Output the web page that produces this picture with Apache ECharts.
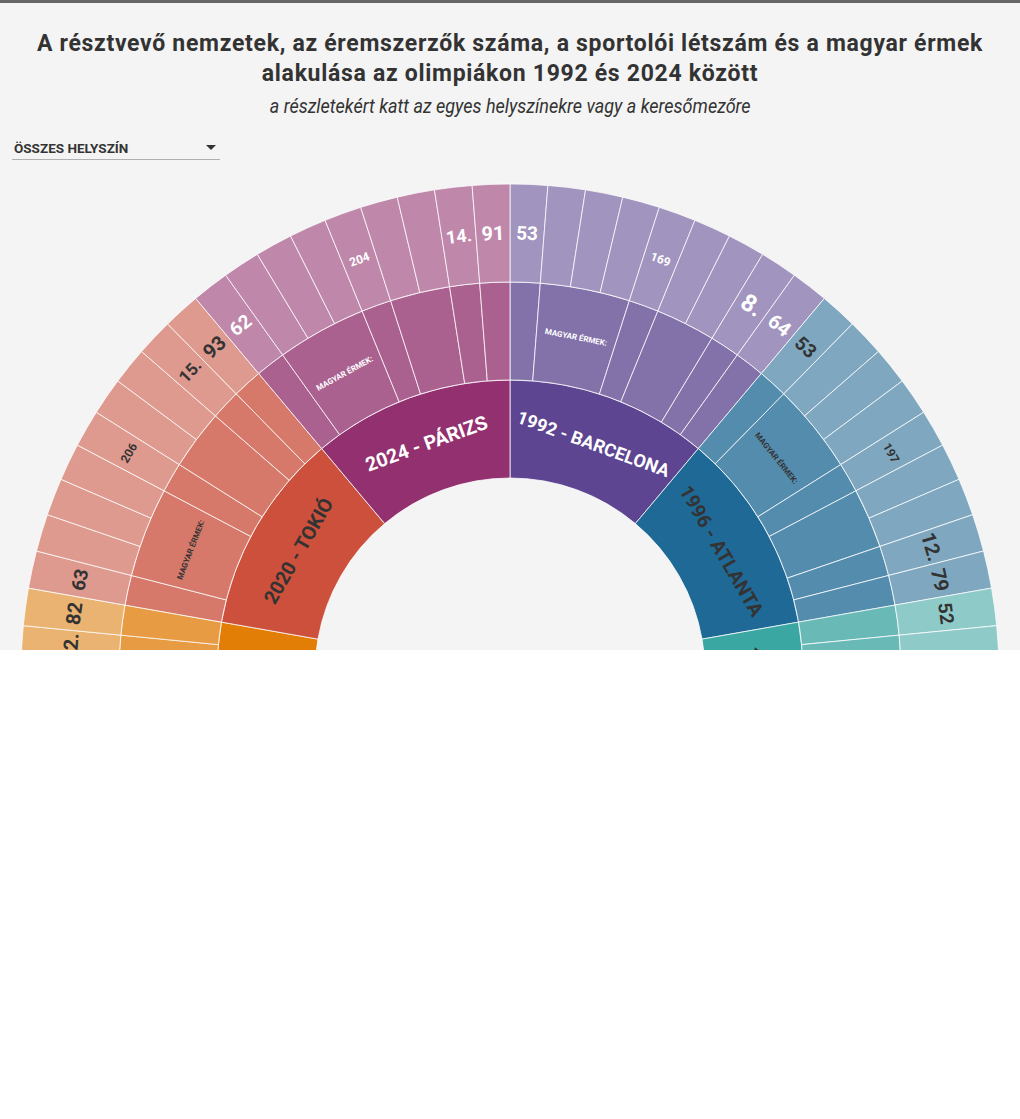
<!DOCTYPE html>
<html>
<head>
<meta charset="utf-8">
<script src="https://cdn.jsdelivr.net/npm/echarts@6/dist/echarts.min.js"></script>
<style>
html,body{margin:0;padding:0;background:#fff;}
#wrap{position:relative;width:1020px;height:650px;background:#f4f4f4;border-top:3px solid #666;box-sizing:border-box;overflow:hidden;font-family:Roboto, "Noto Sans", sans-serif;color:#333;}
#chart{position:absolute;left:0;top:0;width:1020px;height:647px;}
.title{position:absolute;left:0;top:26px;width:1020px;text-align:center;font-weight:700;font-size:23px;line-height:30px;z-index:2;letter-spacing:0.7px;}
.sub{position:absolute;left:0;top:91px;width:1020px;text-align:center;font-style:italic;font-size:20px;line-height:24px;z-index:2;}
.sub span{display:inline-block;transform:scaleX(0.9);}
.dd{position:absolute;left:12px;top:133px;width:208px;height:23px;border-bottom:1px solid #b0b0b0;z-index:2;}
.dd .lbl{position:absolute;left:2px;top:4px;font-size:13.5px;font-weight:700;color:#333;}
.dd .caret{position:absolute;right:4px;top:9px;width:0;height:0;border-left:5px solid transparent;border-right:5px solid transparent;border-top:5px solid #333;}
</style>
</head>
<body>
<div id="wrap">
  <div class="title">A résztvevő nemzetek, az éremszerzők száma, a sportolói létszám és a magyar érmek<br>alakulása az olimpiákon 1992 és 2024 között</div>
  <div class="sub"><span>a részletekért katt az egyes helyszínekre vagy a keresőmezőre</span></div>
  <div class="dd"><span class="lbl">ÖSSZES HELYSZÍN</span><span class="caret"></span></div>
  <div id="chart"></div>
</div>
<script>
// ---- data ----
const games = ['1992 - BARCELONA', '1996 - ATLANTA', '2000 - SYDNEY', '2004 - ATHÉN', '2008 - PEKING', '2012 - LONDON', '2016 - RIO', '2020 - TOKIÓ', '2024 - PÁRIZS'];
const firstValues = ['53', '53', '52', '', '', '', '', '63', '62'];
const nationCounts = ['169', '197', '199', '201', '204', '204', '207', '206', '204'];
const hungaryRanks = ['8.', '12.', '13.', '13.', '21.', '9.', '12.', '15.', '14.'];
const medalNations = ['64', '79', '80', '75', '87', '85', '82', '93', '91'];
const groupSizes = [1, 3, 1, 2, 1, 1];
const groupLabels = ['', 'MAGYAR ÉRMEK:', '', '', '', ''];

// ---- styles ----
const baseColors = ['#5d4591', '#1f6996', '#3ba7a2', '#7fae4e', '#c9b23a', '#e8a21e', '#e27d06', '#cc503c', '#93306f'];
const lightText = [true, false, false, false, false, false, false, false, true];
const BG = [244, 244, 244];

function mix(hex, a) {
  const n = parseInt(hex.slice(1), 16);
  const c = [(n >> 16) & 255, (n >> 8) & 255, n & 255];
  const r = c.map((v, i) => Math.round(v * a + BG[i] * (1 - a)));
  return 'rgb(' + r.join(',') + ')';
}

function leafFont(idx, label) {
  if (idx === 4) return 12;
  if (idx === 7) return label ? Math.max(15, 32 - parseInt(label, 10)) : 16;
  if (idx === 8) return 20;
  return 19;
}

// the chart is cut at the bottom of its box: only labels of the upper part are drawn
const perGame = 360 / games.length;
function inView(midDeg, limit) {
  const a = ((midDeg % 360) + 360) % 360;
  const d = a > 180 ? 360 - a : a;
  return d <= limit;
}

const data = games.map((g, i) => {
  const txt = lightText[i] ? '#ffffff' : '#333333';
  const leafNames = [firstValues[i], '', '', '', nationCounts[i], '', '', hungaryRanks[i], medalNations[i]];
  const leafCount = leafNames.length;
  const step = perGame / leafCount;
  let k = 0;
  const groups = groupSizes.map((sz, gi) => {
    const leaves = [];
    const gStart = k;
    for (let j = 0; j < sz; j++, k++) {
      const mid = i * perGame + (k + 0.5) * step;
      leaves.push({
        name: leafNames[k],
        value: 1,
        itemStyle: { color: mix(baseColors[i], 0.55) },
        label: { show: inView(mid, 90), color: txt, fontSize: leafFont(k, leafNames[k]) }
      });
    }
    const gMid = i * perGame + (gStart + sz / 2) * step;
    return {
      name: groupLabels[gi],
      itemStyle: { color: mix(baseColors[i], 0.75) },
      label: { show: inView(gMid, 88), color: txt },
      children: leaves
    };
  });
  return {
    name: g,
    itemStyle: { color: baseColors[i] },
    label: { show: inView(i * perGame + perGame / 2, 101), color: txt, fontSize: g.length > 15 ? 18 : 19.5 },
    children: groups
  };
});

const chart = echarts.init(document.getElementById('chart'), null, { renderer: 'svg' });
chart.setOption({
  animation: false,
  series: [{
    type: 'sunburst',
    center: [510, 670],
    radius: [195, 489],
    sort: null,
    nodeClick: false,
    startAngle: 90,
    clockwise: true,
    emphasis: { focus: 'none' },
    itemStyle: { borderColor: 'rgba(255,255,255,0.75)', borderWidth: 1 },
    label: { fontFamily: 'Roboto', fontWeight: 700, rotate: 'tangential' },
    levels: [
      {},
      { r0: 195, r: 293, label: { rotate: 'tangential', fontSize: 19, fontWeight: 700 } },
      { r0: 293, r: 391, label: { rotate: 'tangential', fontSize: 8, fontWeight: 700 } },
      { r0: 391, r: 489, label: { rotate: 'tangential', fontWeight: 700 } }
    ],
    data: data
  }]
});
</script>
</body>
</html>
